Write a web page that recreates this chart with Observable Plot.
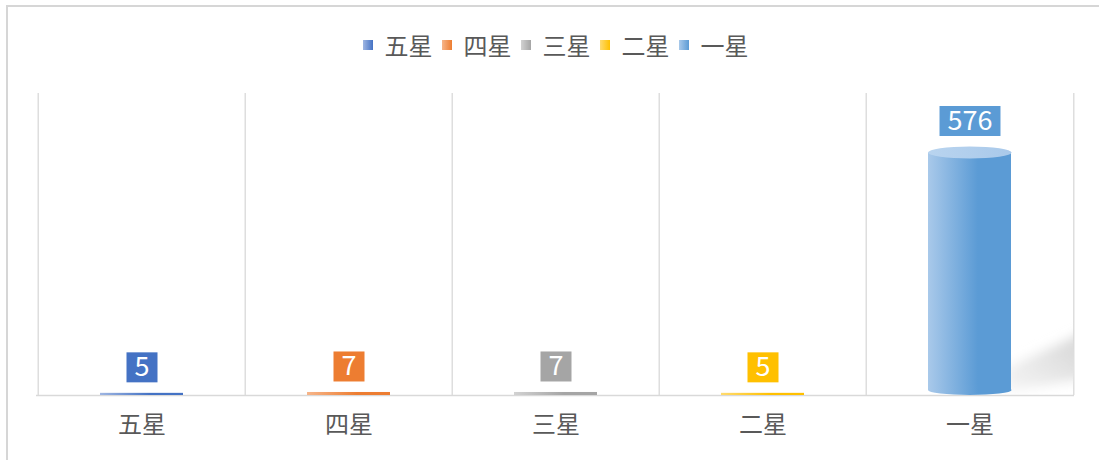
<!DOCTYPE html>
<html>
<head>
<meta charset="utf-8">
<script src="https://cdn.jsdelivr.net/npm/d3@7"></script>
<script src="https://cdn.jsdelivr.net/npm/@observablehq/plot@0.6"></script>
<style>
  html, body { margin: 0; padding: 0; background: #fff; overflow: hidden; }
  #frame { position: absolute; left: 6px; top: 5px; width: 1300px; height: 700px; border: 2px solid #d6d6d6; box-sizing: border-box; }
  #chart { position: absolute; left: 0; top: 0; width: 1099px; }
  #legend { height: 70px; padding-top: 10px; padding-left: 12px; display: flex; justify-content: center; align-items: center; gap: 9px;
            font-family: 'Noto Sans CJK SC', sans-serif; font-size: 24px; color: #595959; }
  .item { display: flex; align-items: center; line-height: 1; }
  .sw { width: 10px; height: 10px; margin-right: 12px; display: inline-block; }
</style>
</head>
<body>
<div id="frame"></div>
<div id="chart">
  <div id="legend"></div>
</div>
<script>
const categories = ["五星", "四星", "三星", "二星", "一星"];
const values = [5, 7, 7, 5, 576];
const colors = ["#4472C4", "#ED7D31", "#A5A5A5", "#FFC000", "#5B9BD5"];
const lightColors = ["#9fb6e2", "#f6b58a", "#d2d2d2", "#ffdb70", "#a9c9ea"];
const capColors = ["#b4c6ea", "#f8c9a8", "#dedede", "#ffe59a", "#b9d4ef"];
const yMax = 700;

// Legend
const legend = document.getElementById("legend");
categories.forEach((c, i) => {
  const it = document.createElement("span");
  it.className = "item";
  const sw = document.createElement("i");
  sw.className = "sw";
  sw.style.background = `linear-gradient(to right, ${lightColors[i]}, ${colors[i]})`;
  it.appendChild(sw);
  it.appendChild(document.createTextNode(c));
  legend.appendChild(it);
});

const W = 1099, H = 380, mL = 36, mR = 25, mT = 13, mB = 65;
const bw = (W - mL - mR) / categories.length;
const inset = 62;

const data = categories.map((c, i) => ({cat: c, value: values[i], i}));
const plotH = H - mT - mB;
const tall = data.filter(d => d.value / yMax * plotH > 20);
const short = data.filter(d => d.value / yMax * plotH <= 20);

const plot = Plot.plot({
  width: W, height: H,
  marginTop: mT, marginBottom: mB, marginLeft: mL, marginRight: mR,
  x: {domain: categories, padding: 0, tickSize: 0, tickPadding: 20, label: null},
  y: {domain: [0, yMax], axis: null},
  color: {type: "identity"},
  style: {fontFamily: "'Noto Sans CJK SC', sans-serif", fontSize: "24px", color: "#595959", background: "transparent", overflow: "visible"},
  marks: [
    Plot.ruleX(categories, {x: d => d, dx: -bw / 2, stroke: "#d9d9d9", strokeWidth: 1.3}),
    Plot.ruleX([categories[categories.length - 1]], {x: d => d, dx: bw / 2, stroke: "#d9d9d9", strokeWidth: 1.3}),
    Plot.ruleY([0], {stroke: "#d9d9d9", strokeWidth: 1.6}),
    Plot.barY(tall, {x: "cat", y: "value", fill: d => `url(#body-${d.i})`, insetLeft: inset, insetRight: inset, insetTop: 6, insetBottom: 5}),
    Plot.barY(short, {x: "cat", y: "value", fill: d => `url(#body-${d.i})`, insetLeft: inset, insetRight: inset}),
    Plot.text(data, {x: "cat", y: "value", text: d => String(d.value), dy: -26, fill: "white", fontSize: 27})
  ]
});
document.getElementById("chart").appendChild(plot);

// Decorations using the plot's own scales
const xs = plot.scale("x"), ys = plot.scale("y");
const svg = d3.select(plot);
const defs = svg.insert("defs", ":first-child");
data.forEach(d => {
  const g = defs.append("linearGradient").attr("id", `body-${d.i}`).attr("x1", 0).attr("x2", 1).attr("y1", 0).attr("y2", 0);
  g.append("stop").attr("offset", 0).attr("stop-color", lightColors[d.i]);
  g.append("stop").attr("offset", 0.6).attr("stop-color", colors[d.i]);
  g.append("stop").attr("offset", 1).attr("stop-color", colors[d.i]);
  const c = defs.append("linearGradient").attr("id", `cap-${d.i}`).attr("x1", 0).attr("x2", 1).attr("y1", 0).attr("y2", 0);
  c.append("stop").attr("offset", 0).attr("stop-color", capColors[d.i]);
  c.append("stop").attr("offset", 1).attr("stop-color", lightColors[d.i]);
});
const sg = defs.append("linearGradient").attr("id", "shadow").attr("x1", 0).attr("y1", 1).attr("x2", 1).attr("y2", 0);
sg.append("stop").attr("offset", 0).attr("stop-color", "#f6f6f6");
sg.append("stop").attr("offset", 1).attr("stop-color", "#d2d2d2");
defs.append("filter").attr("id", "blur").attr("x", "-50%").attr("y", "-50%").attr("width", "200%").attr("height", "200%")
  .append("feGaussianBlur").attr("stdDeviation", 6);
defs.append("clipPath").attr("id", "plotclip").append("rect")
  .attr("x", mL).attr("y", mT).attr("width", W - mL - mR).attr("height", plotH);

const y0 = ys.apply(0);
const barNode = plot.querySelector('g[aria-label="bar"]');
const shadowG = d3.select(plot.insertBefore(document.createElementNS("http://www.w3.org/2000/svg", "g"), barNode)).attr("clip-path", "url(#plotclip)");
const capG = svg.append("g");

tall.forEach(d => {
  const x0 = xs.apply(d.cat) + inset, x1 = xs.apply(d.cat) + bw - inset;
  const cx = (x0 + x1) / 2, rx = (x1 - x0) / 2;
  const yt = ys.apply(d.value) + 6;
  shadowG.append("polygon")
    .attr("points", [[x1 - 6, y0 - 3], [x1 - 6, y0 - 26], [x1 + 80, y0 - 66], [x1 + 80, y0 - 18]].map(p => p.join(",")).join(" "))
    .attr("fill", "url(#shadow)").attr("filter", "url(#blur)");
  capG.append("ellipse").attr("cx", cx).attr("cy", y0 - 5).attr("rx", rx).attr("ry", 5).attr("fill", `url(#body-${d.i})`);
  capG.append("ellipse").attr("cx", cx).attr("cy", yt).attr("rx", rx).attr("ry", 6).attr("fill", `url(#cap-${d.i})`);
});

// label boxes behind value texts (same local frame as each text)
const num = v => { const n = parseFloat(v); return (v && /^-?[\d.]+$/.test(String(v).trim()) && isFinite(n)) ? n : 0; };
const textG = plot.querySelector('g[aria-label="text"]');
plot.appendChild(textG);
d3.select(textG).selectAll("text").each(function(_, k) {
  const d = data[k];
  const tw = this.getComputedTextLength();
  const w = Math.max(30, tw + 16);
  const tx = num(this.getAttribute("x")), ty = num(this.getAttribute("y"));
  const r = document.createElementNS("http://www.w3.org/2000/svg", "rect");
  const tr = this.getAttribute("transform");
  if (tr) r.setAttribute("transform", tr);
  r.setAttribute("x", tx - w / 2);
  r.setAttribute("y", ty - 15);
  r.setAttribute("width", w);
  r.setAttribute("height", 30);
  r.setAttribute("fill", colors[d.i]);
  textG.insertBefore(r, this);
});
</script>
</body>
</html>
